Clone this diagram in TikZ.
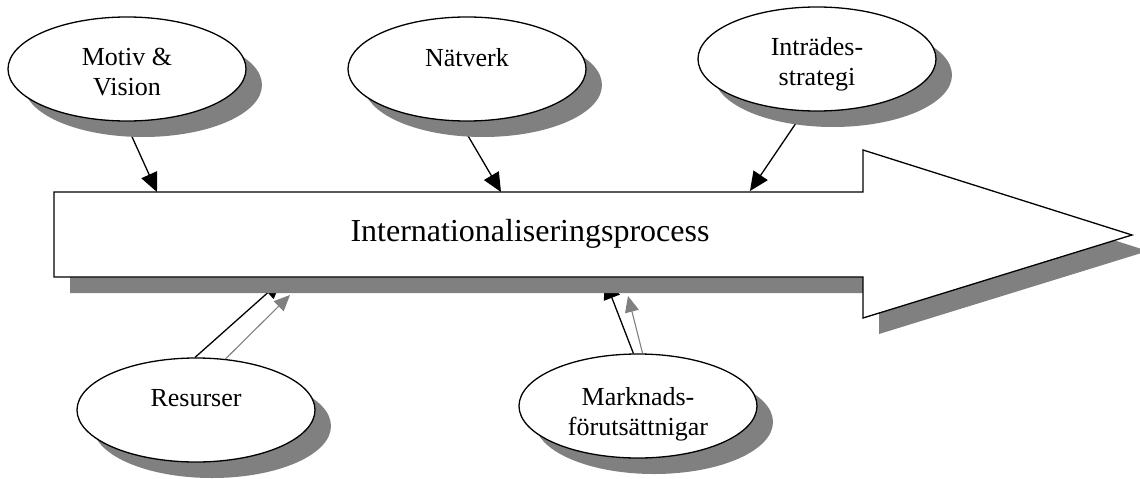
\documentclass[tikz,border=0pt]{standalone}
\usepackage{fontspec}
\setmainfont{Liberation Serif}
\usetikzlibrary{arrows.meta,shapes.geometric,shadows}
\definecolor{shadowgray}{HTML}{808080}
\pgfdeclarelayer{bg}
\pgfsetlayers{bg,main}
\begin{document}
\begin{tikzpicture}[x=1pt,y=-1pt,
  bubble/.style={ellipse, draw, line width=1.3pt, fill=white,
    minimum width=238pt, minimum height=104pt, inner sep=0pt,
    drop shadow={shadow xshift=16pt,shadow yshift=-16pt,fill=shadowgray,opacity=1}},
  btext/.style={align=center, inner sep=0pt, font=\fontsize{26}{30}\selectfont},
  conn/.style={line width=1.3pt, -{Triangle[length=19pt,width=17pt]}},
  gconn/.style={draw=shadowgray, line width=1.1pt, -{Triangle[length=16pt,width=14pt]}, shadowgray},
  bigarrow/.style={line width=1.3pt, fill=white, draw=black}
  ]
\useasboundingbox (0,0) rectangle (1140,479);

% big arrow shadow and body
\path[fill=shadowgray, shift={(16,16)}] (54,192) -- (863,192) -- (863,150) -- (1132,235) -- (863,318) -- (863,277) -- (54,277) -- cycle;
\path[bigarrow] (54,192) -- (863,192) -- (863,150) -- (1132,235) -- (863,318) -- (863,277) -- (54,277) -- cycle;
\node[font=\fontsize{32}{36}\selectfont] (proc) at (530,234) {Internationaliseringsprocess};

% named points on the big arrow
\coordinate (t1) at (157,192);
\coordinate (t2) at (501,192);
\coordinate (t3) at (750,191);
\coordinate (b1) at (282,280);
\coordinate (g1) at (290,295);
\coordinate (b2) at (605,280);
\coordinate (g2) at (628,296);

% ellipses
\node[bubble, label={[btext, yshift=-3pt]center:{Motiv \&\\Vision}}] (mv) at (127,69) {};
\node[bubble, label={[btext, yshift=11pt]center:{Nätverk}}] (nv) at (467,69) {};
\node[bubble, label={[btext, yshift=-5pt]center:{Inträdes-\\strategi}}] (is) at (817,59) {};
\node[bubble, label={[btext, yshift=12pt]center:{Resurser}}] (rs) at (196,410) {};
\node[bubble, label={[btext, yshift=-8pt]center:{Marknads-\\förutsättnigar}}] (mf) at (638,406) {};

% connectors behind
\begin{pgfonlayer}{bg}
\draw[conn] (mv.268) -- (t1);
\draw[conn] (nv.262) -- (t2);
\draw[conn] (is.256) -- (t3);
\draw[conn] (rs.91) -- (b1);
\draw[conn] (mf.95) -- (b2);
\end{pgfonlayer}

% gray connectors on top
\draw[gconn] (rs.60) -- (g1);
\draw[gconn] (mf.85) -- (g2);
\end{tikzpicture}
\end{document}
